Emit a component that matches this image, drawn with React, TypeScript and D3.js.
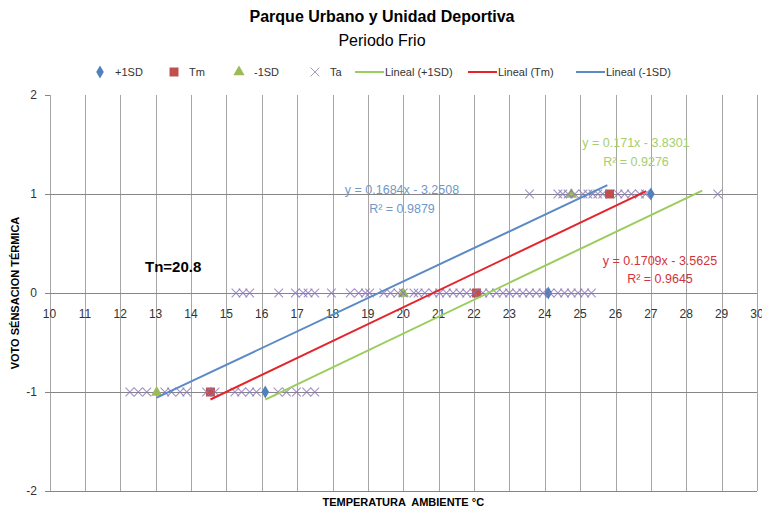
import React from 'react';
import * as d3 from 'd3';

// ---------- data ----------
const xTickValues = [10, 11, 12, 13, 14, 15, 16, 17, 18, 19, 20, 21, 22, 23, 24, 25, 26, 27, 28, 29, 30];
const yTickValues = [-2, -1, 0, 1, 2];

const sdPlusX = [16.1, 24.1, 27.0];
const sdPlusY = [-1, 0, 1];
const tmX = [14.55, 22.07, 25.83];
const tmY = [-1, 0, 1];
const sdMinusX = [13.03, 20.0, 24.75];
const sdMinusY = [-1, 0, 1];

const taXAtMinus1 = [12.27, 12.51, 12.75, 13.26, 13.45, 13.69, 13.88, 14.44, 14.68, 15.24, 15.43, 15.66, 15.85, 16.46, 16.7, 16.98, 17.27, 17.5];
const taXAtZero = [15.27, 15.47, 15.66, 16.48, 16.95, 17.17, 17.31, 17.5, 17.97, 18.5, 18.74, 18.93, 19.05, 19.45, 19.64, 19.85, 20.0, 20.3, 20.42, 20.61, 20.84, 21.03, 21.22, 21.41, 21.6, 21.79, 22.0, 22.25, 22.44, 22.63, 22.82, 23.0, 23.2, 23.38, 23.57, 23.76, 23.95, 24.15, 24.37, 24.56, 24.75, 24.94, 25.13, 25.32];
const taXAtPlus1 = [23.57, 24.37, 24.51, 24.66, 24.85, 25.08, 25.22, 25.36, 25.5, 25.64, 26.07, 26.26, 26.45, 26.68, 26.85, 28.89];

const trendNames = ['Lineal (+1SD)', 'Lineal (Tm)', 'Lineal (-1SD)'];
const trendSlopes = [0.171, 0.1709, 0.1684];
const trendIntercepts = [-3.8301, -3.5625, -3.2508];
const trendR2 = [0.9276, 0.9645, 0.9879];
const trendStartX = [16.1, 14.55, 13.03];
const trendEndX = [28.45, 26.87, 25.77];

const seriesNames = ['+1SD', 'Tm', '-1SD', 'Ta'];
const neutralTempLabel = 'Tn=20.8';

// ---------- styles ----------
const FONT = '"Liberation Sans", Arial, sans-serif';
const C_DIAMOND = '#4F81BD';
const C_SQUARE = '#C0504D';
const C_TRI = '#9BBB59';
const C_X = '#8A76B8';
const trendColors = ['#9ACD5C', '#E3242B', '#5B8AC4'];
const eqColors = ['#A5CE6C', '#D2343B', '#7098C8'];
const GRID = '#A6A6A6';
const AXIS = '#868686';

export default function App() {
  const x = d3.scaleLinear().domain([10, 30]).range([49.5, 757]);
  const y = d3.scaleLinear().domain([-2, 2]).range([491, 95]);
  const px = (v: number) => Math.round(x(v)) + 0.5;
  const py = (v: number) => Math.round(y(v)) + 0.5;

  const diamond = d3.symbol().type(d3.symbolDiamond).size(50)() as string;
  const square = d3.symbol().type(d3.symbolSquare).size(81)() as string;
  const triangle = d3.symbol().type(d3.symbolTriangle).size(55)() as string;
  const cross = 'M-4.3,-4.3L4.3,4.3M-4.3,4.3L4.3,-4.3';

  const taPoints: [number, number][] = [
    ...taXAtMinus1.map((v) => [v, -1] as [number, number]),
    ...taXAtZero.map((v) => [v, 0] as [number, number]),
    ...taXAtPlus1.map((v) => [v, 1] as [number, number]),
  ];

  const line = d3.line<[number, number]>().x((d) => x(d[0])).y((d) => y(d[1]));

  // equation label anchors (layout)
  const eqPos = [
    { cx: 636, y1: 147, y2: 166 },
    { cx: 660, y1: 265, y2: 283 },
    { cx: 402, y1: 194, y2: 213 },
  ];

  const fmtEq = (i: number) =>
    `y = ${trendSlopes[i]}x ${trendIntercepts[i] < 0 ? '-' : '+'} ${Math.abs(trendIntercepts[i]).toFixed(4)}`;

  // legend layout
  const legY = 72;
  const markerItems = [
    { sym: diamond, color: C_DIAMOND, mx: 100, tx: 115 },
    { sym: square, color: C_SQUARE, mx: 174, tx: 189 },
    { sym: triangle, color: C_TRI, mx: 239, tx: 254 },
    { sym: cross, color: '#A09CB4', mx: 315, tx: 330, stroke: true },
  ];
  const lineItems = [
    { x0: 355, x1: 384, tx: 385 },
    { x0: 468, x1: 497, tx: 498 },
    { x0: 576, x1: 605, tx: 606 },
  ];

  return (
    <svg width={762} height={510} style={{ position: 'absolute', left: 0, top: 0, background: '#fff' }} fontFamily={FONT}>
      <rect width={762} height={510} fill="#fff" />
      {/* title */}
      <text x={382} y={22} textAnchor="middle" fontSize={16} fontWeight="bold" fill="#000">Parque Urbano y Unidad Deportiva</text>
      <text x={382} y={46} textAnchor="middle" fontSize={16} fill="#000">Periodo Frio</text>

      {/* legend */}
      {markerItems.map((m, i) => (
        <g key={i}>
          <path d={m.sym} transform={`translate(${m.mx},${legY})`}
            fill={m.stroke ? 'none' : m.color} stroke={m.stroke ? m.color : 'none'} strokeWidth={1} />
          <text x={m.tx} y={legY + 4} fontSize={11} fill="#333">{seriesNames[i]}</text>
        </g>
      ))}
      {lineItems.map((l, i) => (
        <g key={'l' + i}>
          <line x1={l.x0} x2={l.x1} y1={legY} y2={legY} stroke={trendColors[i]} strokeWidth={2} />
          <text x={l.tx} y={legY + 4} fontSize={11} fill="#333">{trendNames[i]}</text>
        </g>
      ))}

      {/* vertical gridlines */}
      {xTickValues.map((v) => (
        <line key={'vx' + v} x1={px(v)} x2={px(v)} y1={y(2)} y2={y(-2)} stroke={GRID} strokeWidth={1} />
      ))}
      {/* horizontal gridlines */}
      {yTickValues.filter((v) => v !== 0 && v !== 2).map((v) => (
        <line key={'hy' + v} x1={45} x2={757} y1={py(v)} y2={py(v)} stroke={AXIS} strokeWidth={1} />
      ))}
      <line x1={45} x2={50} y1={py(2)} y2={py(2)} stroke={AXIS} strokeWidth={1} />
      {/* x axis at y=0 */}
      <line x1={45} x2={757} y1={py(0)} y2={py(0)} stroke={AXIS} strokeWidth={1} />

      {/* y tick labels */}
      {yTickValues.map((v) => (
        <text key={'yl' + v} x={37} y={y(v) + 4} textAnchor="end" fontSize={12} fill="#333">{v}</text>
      ))}
      {/* x tick labels */}
      {xTickValues.map((v) => (
        <text key={'xl' + v} x={x(v)} y={y(0) + 25} textAnchor="middle" fontSize={12} fill="#333">{v}</text>
      ))}

      {/* series markers */}
      {sdPlusX.map((v, i) => (
        <path key={'d' + i} d={diamond} transform={`translate(${x(v)},${y(sdPlusY[i])})`} fill={C_DIAMOND} />
      ))}
      {tmX.map((v, i) => (
        <path key={'s' + i} d={square} transform={`translate(${x(v)},${y(tmY[i])})`} fill={C_SQUARE} />
      ))}
      {sdMinusX.map((v, i) => (
        <path key={'t' + i} d={triangle} transform={`translate(${x(v)},${y(sdMinusY[i]) + 0.5})`} fill={C_TRI} />
      ))}
      {taPoints.map((p, i) => (
        <path key={'x' + i} d={cross} transform={`translate(${x(p[0])},${y(p[1])})`} fill="none" stroke={C_X} strokeWidth={1.1} opacity={0.8} />
      ))}

      {/* trend lines */}
      {trendSlopes.map((m, i) => {
        const pts: [number, number][] = [
          [trendStartX[i], m * trendStartX[i] + trendIntercepts[i]],
          [trendEndX[i], m * trendEndX[i] + trendIntercepts[i]],
        ];
        return <path key={'tr' + i} d={line(pts) as string} stroke={trendColors[i]} strokeWidth={2} fill="none" />;
      })}

      {/* equation labels */}
      {trendSlopes.map((_, i) => (
        <g key={'eq' + i} fontSize={12.5} fill={eqColors[i]} textAnchor="middle">
          <text x={eqPos[i].cx} y={eqPos[i].y1}>{fmtEq(i)}</text>
          <text x={eqPos[i].cx} y={eqPos[i].y2}>R² = {trendR2[i]}</text>
        </g>
      ))}

      {/* Tn label */}
      <text x={145} y={272} fontSize={15} fontWeight="bold" fill="#000">{neutralTempLabel}</text>

      {/* axis titles */}
      <text transform={`translate(19,${(y(2) + y(-2)) / 2}) rotate(-90)`} textAnchor="middle" fontSize={11} fontWeight="bold" fill="#000">VOTO SÉNSACION TÉRMICA</text>
      <text x={(x(10) + x(30)) / 2} y={506} textAnchor="middle" fontSize={11} fontWeight="bold" fill="#000" style={{ whiteSpace: 'pre' }}>TEMPERATURA  AMBIENTE °C</text>
    </svg>
  );
}
